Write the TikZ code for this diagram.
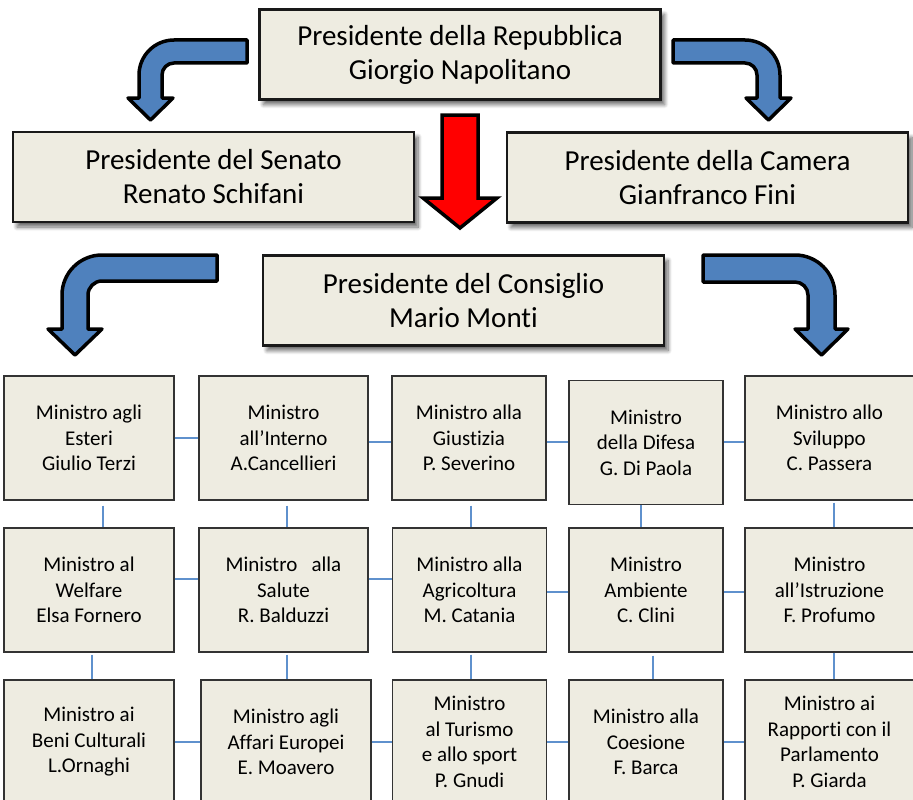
\documentclass[tikz,border=0pt]{standalone}
\usepackage{fontspec}
\setmainfont{Carlito}[Ligatures={NoCommon,NoRequired,NoContextual}]
\usetikzlibrary{shadows.blur}
\definecolor{carta}{HTML}{EEECE1}
\definecolor{blu}{HTML}{4F81BD}
\definecolor{linea}{RGB}{95,145,205}
\begin{document}
\begin{tikzpicture}[x=1pt, y=1pt,
    carica/.style={draw=black!90, line width=2.2pt, fill=carta, align=center, inner sep=0pt,
      font=\fontsize{29}{34}\selectfont, minimum width=401pt, minimum height=90pt,
      blur shadow={shadow xshift=4pt, shadow yshift=-5pt, shadow blur steps=8,
        shadow blur radius=4pt, shadow opacity=60}},
    ministro/.style={draw=black!80, line width=1.2pt, fill=carta, align=center, inner sep=0pt,
      font=\fontsize{21}{25.5}\selectfont, minimum width=170pt, minimum height=124pt},
    stretto/.style={ministro, minimum width=154pt},
    legame/.style={draw=linea, line width=1.1pt},
    freccia/.style={draw=black, line width=3.5pt, line join=round, fill=blu}]
    \useasboundingbox (0,0) rectangle (913,-800);

    % Presidenti
    \node[carica] (rep) at (460,-54.5) {Presidente della Repubblica\\Giorgio Napolitano};
    \node[carica] (sen) at (213.5,-177) {Presidente del Senato\\Renato Schifani};
    \node[carica] (cam) at (707.5,-177.5) {Presidente della Camera\\Gianfranco Fini};
    \node[carica] (cons) at (463.5,-300.5) {Presidente del Consiglio\\Mario Monti};

    % Frecce blu
    \draw[freccia] (247,-40) -- (174,-40) arc[start angle=90, end angle=180, radius=35]
      -- (139,-98) -- (128,-98) -- (150.5,-120) -- (173,-98) -- (162,-98) -- (162,-75)
      arc[start angle=180, end angle=90, radius=12] -- (247,-63) -- cycle;
    \draw[freccia] (673,-40) -- (745,-40) arc[start angle=90, end angle=0, radius=35]
      -- (780,-98) -- (791,-98) -- (768.5,-120) -- (746,-98) -- (757,-98) -- (757,-75)
      arc[start angle=0, end angle=90, radius=12] -- (673,-63) -- cycle;
    \draw[freccia] (217,-255) -- (102,-255) arc[start angle=90, end angle=180, radius=40]
      -- (62,-329) -- (48,-329) -- (75,-355) -- (102,-329) -- (88,-329) -- (88,-295)
      arc[start angle=180, end angle=90, radius=14] -- (217,-281) -- cycle;
    \draw[freccia] (703,-255) -- (795,-255) arc[start angle=90, end angle=0, radius=40]
      -- (835,-329) -- (848,-329) -- (821.5,-355) -- (795,-329) -- (808,-329) -- (808,-295)
      arc[start angle=0, end angle=90, radius=13] -- (703,-282) -- cycle;

    % Freccia rossa
    \draw[draw=black, line width=3.5pt, fill=red] (442,-115) -- (478,-115) -- (478,-198)
      -- (497,-198) -- (460,-228) -- (423,-198) -- (442,-198) -- cycle;

    % Ministri, prima riga
    \node[ministro] (m11) at (89,-438) {Ministro agli\\Esteri\\Giulio Terzi};
    \node[ministro, minimum width=169pt] (m12) at (283.5,-438) {Ministro\\all’Interno\\A.Cancellieri};
    \node[stretto] (m13) at (469,-438) {Ministro alla\\Giustizia\\P. Severino};
    \node[stretto] (m14) at (646,-442.5) {Ministro\\della Difesa\\G. Di Paola};
    \node[ministro, minimum width=169pt] (m15) at (829.5,-438) {Ministro allo\\Sviluppo\\C. Passera};

    % seconda riga
    \node[ministro] (m21) at (89,-590) {Ministro al\\Welfare\\Elsa Fornero};
    \node[ministro, minimum width=169pt] (m22) at (283.5,-590) {Ministro\ \ \ alla\\Salute\\R. Balduzzi};
    \node[stretto] (m23) at (469.5,-590) {Ministro alla\\Agricoltura\\M. Catania};
    \node[stretto] (m24) at (646,-590) {Ministro\\Ambiente\\C. Clini};
    \node[ministro, minimum width=169pt] (m25) at (829.5,-590) {Ministro\\all’Istruzione\\F. Profumo};

    % terza riga
    \node[ministro] (m31) at (89,-742) {Ministro ai\\Beni Culturali\\L.Ornaghi};
    \node[ministro] (m32) at (286,-742) {Ministro agli\\Affari Europei\\E. Moavero};
    \node[stretto] (m33) at (469.5,-742) {Ministro\\al Turismo\\e allo sport\\P. Gnudi};
    \node[stretto] (m34) at (646,-742) {Ministro alla\\Coesione\\F. Barca};
    \node[ministro, minimum width=169pt] (m35) at (829.5,-742) {Ministro ai\\Rapporti con il\\Parlamento\\P. Giarda};

    % legami orizzontali
    \draw[legame] (m11.east) -- (m12.west);
    \draw[legame] ([yshift=-4pt]m12.east) -- ([yshift=-4pt]m13.west);
    \draw[legame] ([yshift=-4pt]m13.east) -- ([yshift=0.5pt]m14.west);
    \draw[legame] ([yshift=0.5pt]m14.east) -- ([yshift=-4pt]m15.west);
    \draw[legame] ([yshift=11pt]m21.east) -- ([yshift=11pt]m22.west);
    \draw[legame] ([yshift=11pt]m22.east) -- ([yshift=11pt]m23.west);
    \draw[legame] ([yshift=-2pt]m23.east) -- ([yshift=-2pt]m24.west);
    \draw[legame] ([yshift=-2pt]m24.east) -- ([yshift=-2pt]m25.west);
    \draw[legame] (m31.east) -- (m32.west);
    \draw[legame] (m32.east) -- (m33.west);
    \draw[legame] (m33.east) -- (m34.west);
    \draw[legame] (m34.east) -- (m35.west);

    % legami verticali
    \draw[legame] ([xshift=14pt,yshift=-5pt]m11.south) -- ([xshift=14pt]m21.north);
    \draw[legame] ([xshift=3pt,yshift=-2pt]m21.south) -- ([xshift=3pt]m31.north);
    \draw[legame] ([xshift=3.5pt,yshift=-5pt]m12.south) -- ([xshift=3.5pt]m22.north);
    \draw[legame] ([xshift=3.5pt,yshift=-2pt]m22.south) -- ([xshift=1pt]m32.north);
    \draw[legame] ([xshift=2pt,yshift=-5pt]m13.south) -- ([xshift=1.5pt]m23.north);
    \draw[legame] ([xshift=1.5pt,yshift=-2pt]m23.south) -- ([xshift=1.5pt]m33.north);
    \draw[legame] ([xshift=-5pt]m14.south) -- ([xshift=-5pt]m24.north);
    \draw[legame] ([xshift=7pt,yshift=-3pt]m24.south) -- ([xshift=7pt]m34.north);
    \draw[legame] ([xshift=4.5pt,yshift=-2pt]m15.south) -- ([xshift=4.5pt]m25.north);
    \draw[legame] ([xshift=4.5pt]m25.south) -- ([xshift=4.5pt]m35.north);
\end{tikzpicture}
\end{document}
